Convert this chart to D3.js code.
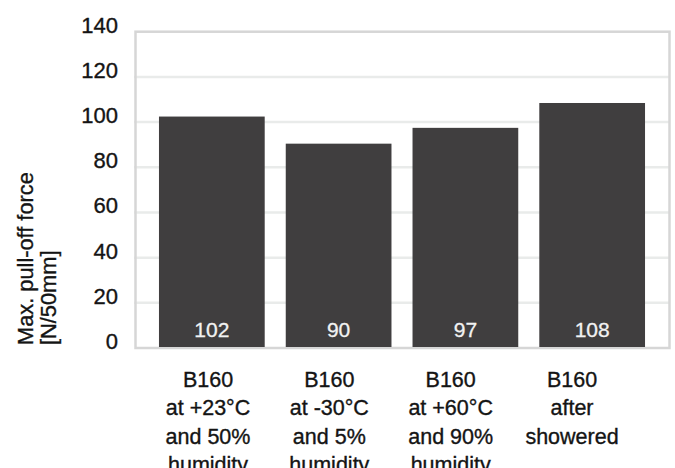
<!DOCTYPE html>
<html>
<head>
<meta charset="utf-8">
<script src="https://cdn.jsdelivr.net/npm/d3@7"></script>
<style>
  body { margin: 0; background: #fff; }
  svg text { font-family: "Liberation Sans", Arial, Helvetica, sans-serif; }
</style>
</head>
<body>
<svg id="chart" width="675" height="468"></svg>
<script>
// data
var categories = ['B160 +23', 'B160 -30', 'B160 +60', 'B160 shower'];
var categoryLines = [
  ['B160', 'at +23°C', 'and 50%', 'humidity'],
  ['B160', 'at -30°C', 'and 5%', 'humidity'],
  ['B160', 'at +60°C', 'and 90%', 'humidity'],
  ['B160', 'after', 'showered']
];
var values = [102, 90, 97, 108];
var yTicks = [0, 20, 40, 60, 80, 100, 120, 140];

var svg = d3.select('svg#chart');

var plotLeft = 134, plotRight = 670, plotTop = 31.7, plotBottom = 348;
var textColor = '#141414';

var y = d3.scaleLinear().domain([0, 140]).range([plotBottom, plotTop]);
var x = d3.scaleBand().domain(categories).range([plotLeft, plotRight])
    .paddingInner(0.166).paddingOuter(0.197);
// the category labels sit on a slightly narrower spacing than the bars
var xLabel = d3.scalePoint().domain(categories).range([208, 572]);

// gridlines
svg.append('g')
  .selectAll('line')
  .data(yTicks.slice(1, -1))
  .enter().append('line')
    .attr('x1', plotLeft).attr('x2', plotRight)
    .attr('y1', function(d){ return y(d); })
    .attr('y2', function(d){ return y(d); })
    .attr('stroke', '#e9ebea')
    .attr('stroke-width', 2.5);

// frame
svg.append('rect')
  .attr('x', plotLeft + 1.5).attr('y', plotTop)
  .attr('width', plotRight - plotLeft - 2).attr('height', plotBottom - plotTop)
  .attr('fill', 'none')
  .attr('stroke', '#d6d6d6')
  .attr('stroke-width', 2.5);

// y tick labels
var yAxis = d3.axisLeft(y).tickValues(yTicks).tickSize(0).tickPadding(0);
var gy = svg.append('g')
  .attr('transform', 'translate(118,0)')
  .call(yAxis);
gy.select('.domain').remove();
gy.selectAll('text')
  .attr('dy', '0')
  .attr('y', 0.5)
  .attr('font-size', 22)
  .attr('font-family', '"Liberation Sans", Arial, sans-serif')
  .attr('fill', textColor)
  .attr('stroke', textColor)
  .attr('stroke-width', 0.35);

// bars
svg.append('g')
  .selectAll('rect')
  .data(values)
  .enter().append('rect')
    .attr('x', function(d, i){ return x(categories[i]); })
    .attr('y', function(d){ return y(d) - 1; })
    .attr('width', x.bandwidth())
    .attr('height', function(d){ return y(0) - y(d); })
    .attr('fill', '#403e3f');

// value labels inside bars
svg.append('g')
  .selectAll('text')
  .data(values)
  .enter().append('text')
    .attr('x', function(d, i){ return x(categories[i]) + x.bandwidth() / 2; })
    .attr('y', 337)
    .attr('text-anchor', 'middle')
    .attr('font-size', 21)
    .attr('fill', '#f2f2f2')
    .attr('stroke', '#f2f2f2')
    .attr('stroke-width', 0.3)
    .text(function(d){ return d; });

// category labels
categoryLines.forEach(function(lines, i) {
  var t = svg.append('text')
    .attr('text-anchor', 'middle')
    .attr('font-size', 21.5)
    .attr('fill', textColor)
    .attr('stroke', textColor)
    .attr('stroke-width', 0.35);
  lines.forEach(function(line, j) {
    t.append('tspan')
      .attr('x', xLabel(categories[i]))
      .attr('y', 387 + j * 28.4)
      .text(line);
  });
});

// y axis title
var title = svg.append('text')
  .attr('transform', 'rotate(-90)')
  .attr('font-size', 21.8)
  .attr('fill', textColor)
  .attr('stroke', textColor)
  .attr('stroke-width', 0.35);
title.append('tspan').attr('x', -345).attr('y', 33).text('Max. pull-off force');
title.append('tspan').attr('x', -345).attr('y', 56).text('[N/50mm]');
</script>
</body>
</html>
